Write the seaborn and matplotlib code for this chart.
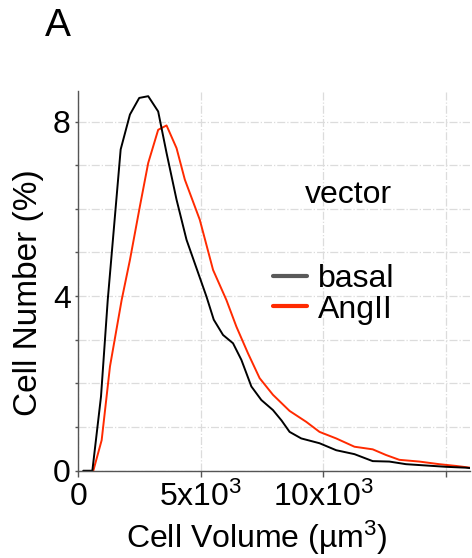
"""Cell volume distribution, vector cells, basal vs AngII."""

import matplotlib

matplotlib.use("Agg")

import matplotlib.pyplot as plt
import pandas as pd
import seaborn as sns
from matplotlib.lines import Line2D
from matplotlib.ticker import MultipleLocator

# cell volume (um^3) and cell number (%)
basal_vol = [200, 572, 925, 1200, 1728, 2107, 2486, 2853, 3260, 3602, 4010, 4418,
             4825, 5232, 5530, 5909, 6317, 6658, 7066, 7473, 7947, 8300, 8627,
             9103, 9849, 10530, 11276, 12022, 12701, 13382, 14197, 15012, 15827, 16000]
basal_pct = [0, 0, 1.70, 3.91, 7.36, 8.16, 8.54, 8.58, 8.23, 7.28, 6.21, 5.29,
             4.64, 3.99, 3.46, 3.11, 2.92, 2.54, 1.93, 1.62, 1.39, 1.15, 0.89,
             0.74, 0.63, 0.47, 0.38, 0.22, 0.21, 0.15, 0.12, 0.09, 0.07, 0.06]

angii_vol = [611, 952, 1292, 1768, 2107, 2514, 2853, 3260, 3602, 4010, 4348, 4959,
             5502, 6047, 6455, 6928, 7404, 7947, 8627, 9307, 9849, 10530, 11276,
             12022, 12566, 13109, 13925, 14740, 15420, 16000]
angii_pct = [0, 0.70, 2.39, 3.91, 4.83, 6.06, 7.05, 7.81, 7.91, 7.39, 6.67, 5.75,
             4.60, 3.91, 3.30, 2.69, 2.12, 1.74, 1.37, 1.12, 0.89, 0.74, 0.55,
             0.49, 0.36, 0.25, 0.21, 0.15, 0.11, 0.07]

x_ticks = [0, 5000, 10000, 15000]
x_labels = ["0", "5x10$^{3}$", "10x10$^{3}$", ""]
y_ticks = [0, 4, 8]
conditions = ["basal", "AngII"]
colors = {"basal": "#000000", "AngII": "#ff2a00"}
legend_colors = {"basal": "#5a5a5a", "AngII": "#ff2a00"}

sns.set_theme(style="white")
plt.rcParams["font.family"] = ["Liberation Sans", "DejaVu Sans"]
plt.rcParams["mathtext.fontset"] = "custom"
plt.rcParams["mathtext.rm"] = "Liberation Sans"
plt.rcParams["mathtext.it"] = "Liberation Sans"
plt.rcParams["mathtext.default"] = "regular"
plt.rcParams["text.color"] = "black"
plt.rcParams["axes.labelcolor"] = "black"
plt.rcParams["xtick.color"] = "black"
plt.rcParams["ytick.color"] = "black"

df = pd.concat([
    pd.DataFrame({"vol": basal_vol, "pct": basal_pct, "cond": "basal"}),
    pd.DataFrame({"vol": angii_vol, "pct": angii_pct, "cond": "AngII"}),
])

fig = plt.figure(figsize=(4.72, 5.58), dpi=100)
ax = fig.add_axes([0.166, 0.1564, 0.830, 0.6806])

ax.xaxis.grid(True, which="major", linestyle="-.", color="#dcdcdc", linewidth=0.9)
ax.yaxis.grid(True, which="both", linestyle="-.", color="#dcdcdc", linewidth=0.9)
ax.set_axisbelow(True)

sns.lineplot(data=df, x="vol", y="pct", hue="cond", hue_order=conditions[::-1],
             palette=colors, estimator=None, sort=False, linewidth=1.4,
             legend=False, ax=ax)

ax.set_xlim(0, 16000)
ax.set_ylim(0, 8.7)
ax.set_xticks(x_ticks)
ax.set_xticklabels(x_labels)
ax.set_yticks(y_ticks)
ax.yaxis.set_minor_locator(MultipleLocator(1))

for side in ["top", "right"]:
    ax.spines[side].set_visible(False)
for side in ["left", "bottom"]:
    ax.spines[side].set_color("#555555")
    ax.spines[side].set_linewidth(1.0)

ax.tick_params(axis="x", which="major", bottom=True, length=4, width=1,
               color="#555555", pad=4, labelsize=23)
ax.tick_params(axis="y", which="both", left=True, length=2.5, width=1,
               color="#555555", pad=3, labelsize=23)

ax.set_ylabel("Cell Number (%)", fontsize=24)
ax.yaxis.set_label_coords(-0.0876, 0.469)
ax.set_xlabel("Cell Volume (µm$^{3}$)", fontsize=23)
ax.xaxis.set_label_coords(0.455, -0.125)

ax.text(0.689, 0.725, "vector", transform=ax.transAxes, ha="center",
        va="center", fontsize=23)

handles = [Line2D([], [], color=legend_colors[c], linewidth=3) for c in conditions]
ax.legend(handles, conditions, loc="upper left",
          bbox_to_anchor=((273 - 78.3) / 391.7, (470.7 - 264) / 379.7),
          frameon=False, fontsize=23, borderpad=0, borderaxespad=0,
          handlelength=1.05, handletextpad=0.35, labelspacing=0.02)

fig.text(45 / 472, 1 - 8 / 558, "A", fontsize=28, ha="left", va="top")

fig.savefig("out.png", dpi=100)
plt.close(fig)
